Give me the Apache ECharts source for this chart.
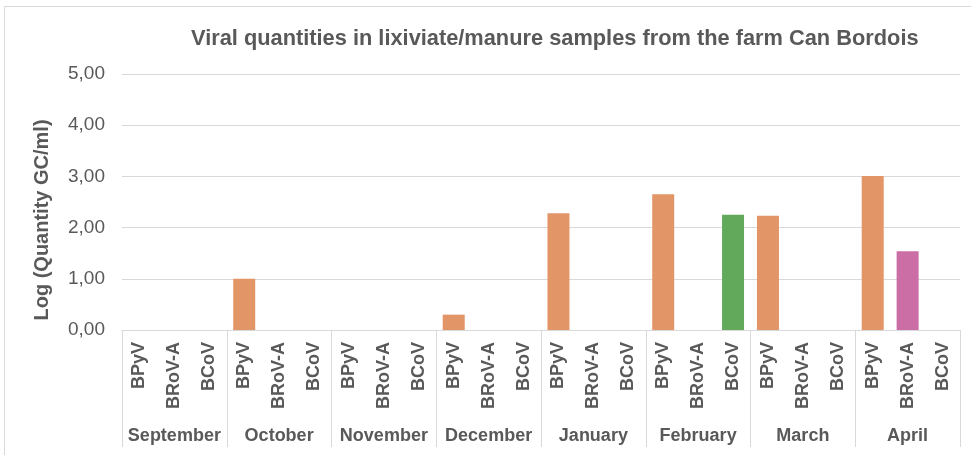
<!DOCTYPE html>
<html>
<head>
<meta charset="utf-8">
<style>
  html, body { margin: 0; padding: 0; background: #ffffff; }
  #chart { width: 971px; height: 455px; }
</style>
<script src="https://cdn.jsdelivr.net/npm/echarts@6/dist/echarts.min.js"></script>
</head>
<body>
<div id="chart"></div>
<script>
// Sampling months and the viruses measured each month
const months = ['September', 'October', 'November', 'December', 'January', 'February', 'March', 'April'];
const viruses = ['BPyV', 'BRoV-A', 'BCoV'];

// Log (Quantity GC/ml) per virus, one value per month (null = not detected)
const bpyv  = [null, 1.00, null, 0.30, 2.28, 2.65, 2.23, 3.01];
const brova = [null, null, null, null, null, null, null, 1.54];
const bcov  = [null, null, null, null, null, 2.25, null, null];

// Y axis ticks
const yTicks = [0, 1, 2, 3, 4, 5];

const virusValues = [bpyv, brova, bcov];
const virusColors = ['#E29567', '#CB6EA5', '#63A95B'];

// Flatten into month x virus categories
const virusCategories = [];
const barData = [];
months.forEach((m, mi) => {
  viruses.forEach((v, vi) => {
    virusCategories.push(v);
    barData.push({
      value: virusValues[vi][mi],
      itemStyle: { color: virusColors[vi] }
    });
  });
});

const textColor = '#595959';
const gridColor = '#D9D9D9';
const font = 'Liberation Sans, Arial, sans-serif';

const chart = echarts.init(document.getElementById('chart'), null, { renderer: 'canvas' });
chart.setOption({
  backgroundColor: '#ffffff',
  animation: false,
  title: {
    text: 'Viral quantities in lixiviate/manure samples from the farm Can Bordois',
    left: 186,
    top: 23,
    textStyle: { color: textColor, fontSize: 21.8, fontWeight: 'bold', fontFamily: font }
  },
  graphic: [{
    type: 'rect',
    shape: { x: 4.5, y: 6.5, width: 990, height: 470 },
    style: { fill: 'none', stroke: gridColor, lineWidth: 1 },
    silent: true,
    z: -1
  }],
  grid: { left: 122, right: 11, top: 74, bottom: 125 },
  xAxis: [{
    type: 'category',
    data: virusCategories,
    position: 'bottom',
    axisLine: { show: true, lineStyle: { color: gridColor, width: 1 } },
    axisTick: { show: false },
    axisLabel: {
      interval: 0,
      rotate: 90,
      margin: 12,
      color: textColor,
      fontSize: 18,
      fontWeight: 'bold',
      fontFamily: font
    }
  }, {
    type: 'category',
    data: months,
    position: 'bottom',
    axisLine: { show: false },
    axisTick: {
      show: true,
      interval: 0,
      length: 117,
      lineStyle: { color: gridColor, width: 1 }
    },
    axisLabel: {
      interval: 0,
      margin: 97,
      color: textColor,
      fontSize: 18,
      fontWeight: 'bold',
      fontFamily: font
    }
  }],
  yAxis: {
    type: 'value',
    min: yTicks[0],
    max: yTicks[yTicks.length - 1],
    interval: 1,
    name: 'Log (Quantity GC/ml)',
    nameLocation: 'middle',
    nameGap: 70,
    nameTextStyle: {
      color: textColor, fontSize: 20, fontWeight: 'bold', fontFamily: font,
      padding: [0, 36, 0, 0]
    },
    axisLine: { show: false },
    axisTick: { show: false },
    splitLine: { lineStyle: { color: gridColor, width: 1 } },
    axisLabel: {
      margin: 17,
      color: textColor,
      fontSize: 19,
      fontFamily: font,
      formatter: v => v.toFixed(2).replace('.', ',')
    }
  },
  series: [{
    type: 'bar',
    xAxisIndex: 0,
    data: barData,
    barWidth: 22,
    itemStyle: { borderWidth: 0 }
  }]
});
</script>
</body>
</html>
